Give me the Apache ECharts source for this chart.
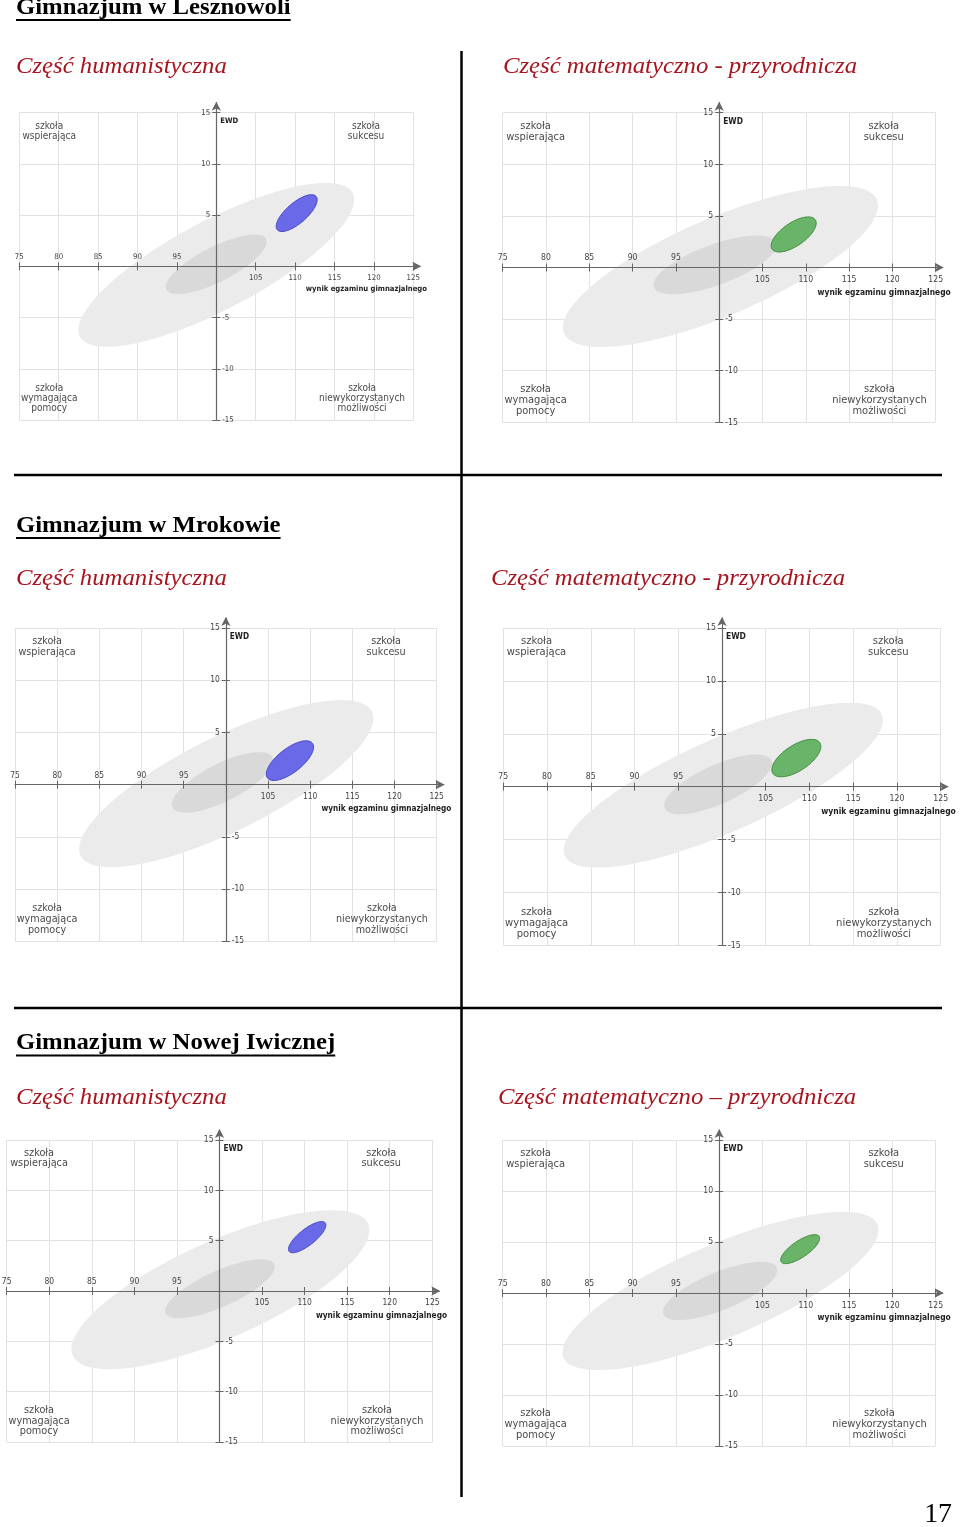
<!DOCTYPE html>
<html><head><meta charset="utf-8">
<script src="https://cdn.jsdelivr.net/npm/echarts@6/dist/echarts.min.js"></script>
<style>html,body{margin:0;padding:0;background:#fff}#c{width:960px;height:1527px}</style>
</head><body><div id="c"></div>
<script>
// ---------------- DATA ----------------
const SCHOOLS = ['Gimnazjum w Lesznowoli', 'Gimnazjum w Mrokowie', 'Gimnazjum w Nowej Iwicznej'];
const PARTS_LESZNOWOLA = ['Część humanistyczna', 'Część matematyczno - przyrodnicza'];
const PARTS_MROKOW = ['Część humanistyczna', 'Część matematyczno - przyrodnicza'];
const PARTS_IWICZNA = ['Część humanistyczna', 'Część matematyczno – przyrodnicza'];
const QUADRANT_LABELS = ['szkoła\nwspierająca', 'szkoła\nsukcesu', 'szkoła\nwymagająca\npomocy', 'szkoła\nniewykorzystanych\nmożliwości'];
const X_AXIS_NAME = 'wynik egzaminu gimnazjalnego';
const Y_AXIS_NAME = 'EWD';
const X_TICKS_ABOVE = [75, 80, 85, 90, 95];
const X_TICKS_BELOW = [105, 110, 115, 120, 125];
const Y_TICKS_LEFT = [15, 10, 5];
const Y_TICKS_RIGHT = [-5, -10, -15];
const PAGE_NUMBER = '17';
// ellipses: [centre score, centre EWD, half-range score, half-range EWD, EWD offset at max score]
// order: all schools (outer), all schools (inner), this school
const lesznowolaHum = [[100.0, 0.15, 17.5, 8.0, 6.35], [100.0, 0.2, 6.4, 2.9, 2.2], [110.2, 5.2, 2.6, 1.8, 1.3]];
const lesznowolaMat = [[100.15, 0.1, 18.2, 7.8, 5.9], [99.5, 0.25, 7.1, 2.85, 1.95], [108.6, 3.2, 2.6, 1.7, 1.1]];
const mrokowHum = [[100.05, 0.1, 17.45, 8.0, 6.25], [99.6, 0.22, 6.0, 2.9, 2.1], [107.6, 2.3, 2.8, 1.9, 1.3]];
const mrokowMat = [[100.15, 0.14, 18.25, 7.8, 6.16], [99.55, 0.22, 6.15, 2.83, 2.0], [108.5, 2.7, 2.8, 1.77, 1.1]];
const iwicznaHum = [[100.1, 0.13, 17.5, 7.9, 5.9], [100.05, 0.22, 6.45, 2.93, 2.2], [110.3, 5.35, 2.2, 1.55, 1.2]];
const iwicznaMat = [[100.15, 0.2, 18.25, 7.76, 6.0], [100.1, 0.2, 6.6, 2.86, 2.05], [109.35, 4.3, 2.25, 1.42, 1.06]];

// ---------------- LAYOUT / STYLE ----------------
const SANS = '"DejaVu Sans Condensed","DejaVu Sans",sans-serif';
const SERIF = '"Liberation Serif","Times New Roman",serif';
const RED = '#a8141e';
const SX = 1.03;

const CHARTS = [
  {data: lesznowolaHum, color: ['#6a6ae8', '#4747c4'], left: 19.3, top: 112.7, width: 394, height: 307.3},
  {data: lesznowolaMat, color: ['#6ab46a', '#3f8c3f'], left: 502.7, top: 112.7, width: 433, height: 309.6},
  {data: mrokowHum, color: ['#6a6ae8', '#4747c4'], left: 15, top: 628, width: 421.7, height: 313.3},
  {data: mrokowMat, color: ['#6ab46a', '#3f8c3f'], left: 503.3, top: 628, width: 437.4, height: 317.3},
  {data: iwicznaHum, color: ['#6a6ae8', '#4747c4'], left: 6.7, top: 1140, width: 425.6, height: 302},
  {data: iwicznaMat, color: ['#6ab46a', '#3f8c3f'], left: 502.7, top: 1140, width: 433, height: 306}
];
const QUAD_POS = [[78.8, 13.2], [119, 13.2], [78.8, -12.9], [118.5, -12.9]];

const grids = [], xAxes = [], yAxes = [], series = [];
CHARTS.forEach(function (c) {
  const s = c.width / 433;
  const gi = grids.length;
  grids.push({left: c.left, top: c.top, width: c.width, height: c.height, outerBoundsMode: 'none'});
  grids.push({left: c.left, top: c.top - 10, width: c.width + 7, height: c.height + 10, outerBoundsMode: 'none'});
  const tickFont = {fontFamily: SANS, fontSize: 8.6 * s, color: '#444'};
  const tickLine = {color: '#666', width: 1};
  const xBase = {type: 'value', gridIndex: gi, min: 75, max: 125, interval: 5, position: 'bottom', offset: -c.height / 2};
  const yBase = {type: 'value', gridIndex: gi, min: -15, max: 15, interval: 5, position: 'left', offset: -c.width / 2};
  const xg = xAxes.length, yg = yAxes.length;
  // grid lines
  xAxes.push(Object.assign({}, xBase, {z: 0, axisLine: {show: false, onZero: false}, axisTick: {show: false}, axisLabel: {show: false},
    splitLine: {show: true, lineStyle: {color: '#e2e2e2', width: 1}}}));
  yAxes.push(Object.assign({}, yBase, {z: 0, axisLine: {show: false, onZero: false}, axisTick: {show: false}, axisLabel: {show: false},
    splitLine: {show: true, lineStyle: {color: '#e2e2e2', width: 1}}}));
  // ticks and labels
  xAxes.push(Object.assign({}, xBase, {z: 5, axisLine: {show: false, onZero: false},
    axisTick: {show: true, inside: true, length: 4, lineStyle: tickLine},
    axisLabel: Object.assign({inside: true, margin: 5, formatter: function (v) { return X_TICKS_ABOVE.indexOf(v) >= 0 ? String(v) : ''; }}, tickFont),
    splitLine: {show: false}}));
  xAxes.push(Object.assign({}, xBase, {z: 5, axisLine: {show: false, onZero: false},
    axisTick: {show: true, inside: false, length: 4, lineStyle: tickLine},
    axisLabel: Object.assign({margin: 8, formatter: function (v) { return X_TICKS_BELOW.indexOf(v) >= 0 ? String(v) : ''; }}, tickFont),
    splitLine: {show: false},
    name: X_AXIS_NAME, nameLocation: 'end', nameGap: 15 * s, nameMoveOverlap: false,
    nameTextStyle: {align: 'right', verticalAlign: 'top', padding: [21 * s, 0, 0, 0], fontFamily: SANS, fontWeight: 'bold', fontSize: 8.4 * s, color: '#1e1e1e'}}));
  yAxes.push(Object.assign({}, yBase, {z: 5, axisLine: {show: false, onZero: false},
    axisTick: {show: true, inside: false, length: 4, lineStyle: tickLine},
    axisLabel: Object.assign({margin: 6, formatter: function (v) { return Y_TICKS_LEFT.indexOf(v) >= 0 ? String(v) : ''; }}, tickFont),
    splitLine: {show: false}}));
  yAxes.push(Object.assign({}, yBase, {z: 5, axisLine: {show: false, onZero: false},
    axisTick: {show: true, inside: true, length: 4, lineStyle: tickLine},
    axisLabel: Object.assign({inside: true, margin: 6, formatter: function (v) { return Y_TICKS_RIGHT.indexOf(v) >= 0 ? String(v) : ''; }}, tickFont),
    splitLine: {show: false},
    name: Y_AXIS_NAME, nameLocation: 'end', nameGap: -9 * s, nameMoveOverlap: false,
    nameTextStyle: {align: 'left', verticalAlign: 'middle', padding: [0, 0, 0, 4], fontFamily: SANS, fontWeight: 'bold', fontSize: 8.4 * s, color: '#1e1e1e'}}));
  // axis lines with arrows
  const arrowLine = {show: true, onZero: false, symbol: ['none', 'arrow'], symbolSize: [7, 9], symbolOffset: [0, 1], lineStyle: {color: '#666', width: 1.2}};
  xAxes.push({type: 'value', gridIndex: gi + 1, min: 0, max: 1, position: 'bottom', offset: -c.height / 2, z: 5,
    axisLine: arrowLine, axisTick: {show: false}, axisLabel: {show: false}, splitLine: {show: false}});
  yAxes.push({type: 'value', gridIndex: gi + 1, min: 0, max: 1, position: 'left', offset: -c.width / 2, z: 5,
    axisLine: arrowLine, axisTick: {show: false}, axisLabel: {show: false}, splitLine: {show: false}});

  const fills = ['#ebebeb', '#d9d9d9', c.color[0]];
  const strokes = [null, null, c.color[1]];
  series.push({
    type: 'custom', xAxisIndex: xg, yAxisIndex: yg, silent: true, z: 2, animation: false,
    data: c.data,
    renderItem: function (params, api) {
      const cx = api.value(0), cy = api.value(1), a = api.value(2), b = api.value(3), off = api.value(4);
      const phi = Math.asin(Math.max(-1, Math.min(1, off / b)));
      const pts = [];
      for (let i = 0; i < 90; i++) {
        const t = i / 90 * 2 * Math.PI;
        pts.push(api.coord([cx + a * Math.cos(t), cy + b * Math.sin(t + phi)]));
      }
      const k = params.dataIndex;
      return {type: 'polygon', shape: {points: pts},
        style: {fill: fills[k], stroke: strokes[k] || 'none', lineWidth: strokes[k] ? 1 : 0}};
    }
  });
  series.push({
    type: 'scatter', xAxisIndex: xg, yAxisIndex: yg, silent: true, z: 6, animation: false,
    symbolSize: 1, itemStyle: {color: 'rgba(0,0,0,0)'},
    data: QUADRANT_LABELS.map(function (t, k) { return {value: QUAD_POS[k], label: {formatter: t}}; }),
    label: {show: true, position: 'inside', color: '#151515', fontFamily: SANS, fontSize: 11 * s, lineHeight: 11 * s, align: 'center'}
  });
});

// ---------------- PAGE TEXT ----------------
const ctx = document.createElement('canvas').getContext('2d');
function textW(font, t) { ctx.font = font; return ctx.measureText(t).width; }
const graphic = [];
const rows = [
  {school: SCHOOLS[0], parts: PARTS_LESZNOWOLA, titleBase: 15, partBase: 74, rightX: 503},
  {school: SCHOOLS[1], parts: PARTS_MROKOW, titleBase: 533, partBase: 586, rightX: 491},
  {school: SCHOOLS[2], parts: PARTS_IWICZNA, titleBase: 1050.5, partBase: 1105, rightX: 498}
];
rows.forEach(function (r) {
  const tf = 'bold 24px ' + SERIF;
  graphic.push({type: 'text', x: 16, y: r.titleBase - 7.5, scaleX: SX,
    style: {text: r.school, font: tf, fill: '#000', align: 'left', verticalAlign: 'middle'}});
  const w = textW(tf, r.school) * SX;
  graphic.push({type: 'line', shape: {x1: 16, y1: r.titleBase + 5, x2: 16 + w, y2: r.titleBase + 5}, style: {stroke: '#000', lineWidth: 2}});
  const pf = 'italic 24px ' + SERIF;
  graphic.push({type: 'text', x: 16, y: r.partBase - 7.5, scaleX: SX,
    style: {text: r.parts[0], font: pf, fill: RED, align: 'left', verticalAlign: 'middle'}});
  graphic.push({type: 'text', x: r.rightX, y: r.partBase - 7.5, scaleX: SX,
    style: {text: r.parts[1], font: pf, fill: RED, align: 'left', verticalAlign: 'middle'}});
});
graphic.push({type: 'line', shape: {x1: 461.5, y1: 51, x2: 461.5, y2: 1497}, style: {stroke: '#000', lineWidth: 2.5}});
graphic.push({type: 'line', shape: {x1: 14, y1: 475, x2: 942, y2: 475}, style: {stroke: '#000', lineWidth: 2.5}});
graphic.push({type: 'line', shape: {x1: 14, y1: 1008, x2: 942, y2: 1008}, style: {stroke: '#000', lineWidth: 2.5}});
graphic.push({type: 'text', x: 952, y: 1515, scaleX: SX,
  style: {text: PAGE_NUMBER, font: '27px ' + SERIF, fill: '#000', align: 'right', verticalAlign: 'middle'}});

const chart = echarts.init(document.getElementById('c'), null, {renderer: 'canvas'});
chart.setOption({
  backgroundColor: '#fff',
  animation: false,
  grid: grids, xAxis: xAxes, yAxis: yAxes, series: series,
  graphic: {elements: graphic}
});
</script></body></html>
